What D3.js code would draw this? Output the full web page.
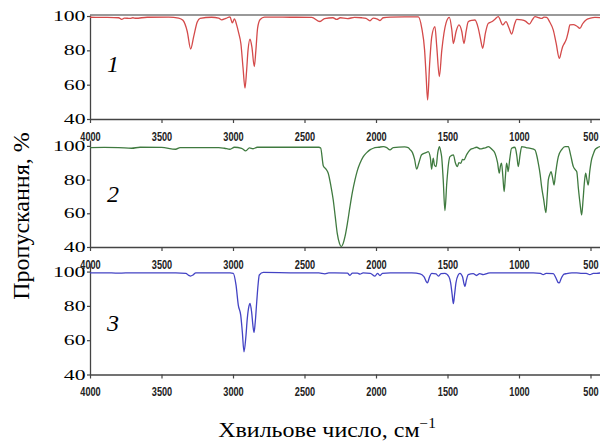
<!DOCTYPE html>
<html>
<head>
<meta charset="utf-8">
<script src="https://cdn.jsdelivr.net/npm/d3@7"></script>
<style>
  body { margin: 0; background: #fff; }
</style>
</head>
<body>
<div id="canvas"></div>
<script>
// tick values and labels
const xTicks = [4000, 3500, 3000, 2500, 2000, 1500, 1000, 500];
const yTicks = [40, 60, 80, 100];
const panelNames = ["1", "2", "3"];

// spectrum 1 (red)
const wn1 = [4000,3900,3800,3778,3760,3720,3700,3680,3600,3450,3380,3350,3320,3296,3275,3250,3230,3150,3100,3079,3050,3021,3005,2990,2975,2960,2945,2930,2916,2905,2895,2881,2868,2851,2840,2828,2810,2780,2600,2450,2392,2360,2301,2275,2250,2200,2150,2100,2070,2042,2020,1990,1972,1950,1900,1800,1704,1680,1660,1650,1639,1625,1610,1588,1575,1557,1540,1510,1487,1470,1459,1440,1420,1400,1385,1370,1355,1330,1308,1285,1270,1254,1235,1215,1191,1170,1145,1114,1091,1070,1051,1030,1016,981,955,928,905,888,860,841,825,807,785,760,740,718,705,695,680,667,655,644,620,597,574,555,527,500,469,430];
const tr1 = [99.3,99.2,99.0,98.0,98.8,98.6,99.0,98.7,99.3,99.4,98.8,97.5,91,80.8,88,96.5,98.6,99.3,98.8,97.8,98.6,99.5,96,98.3,95,90,84,70,58,68,80,86.6,82,70.5,80,93,98,99.4,99.3,99.2,96.8,98.5,99,98,99,98.5,99.2,99,98.6,97.2,98.8,98.2,97.4,99,99.4,99.5,99.5,93,80,66,51.1,72,88,93.8,82,64.7,80,96,99.2,92,84,91,94.8,91,84,91,96.7,97.5,97.7,93,87,81.2,90,95.7,96.7,98,99.6,94.8,96.7,93,89.5,95.5,98,97.7,97,95.3,98,99.6,99,98.6,99.4,99.2,96.5,91.8,84,75.3,79,82.1,84.5,87,91,94.8,95,94.2,92.8,95.5,98,98.8,99.2,99];

// spectrum 2 (green)
const wn2 = [4000,3900,3800,3709,3650,3500,3401,3370,3100,3060,3021,2990,2940,2911,2885,2860,2830,2700,2500,2400,2387,2368,2350,2334,2315,2299,2285,2271,2255,2243,2230,2217,2200,2182,2165,2147,2130,2112,2090,2065,2040,2019,1980,1949,1925,1902,1880,1800,1775,1762,1745,1730,1716,1700,1681,1650,1635,1620,1611,1600,1591,1580,1568,1557,1548,1541,1530,1518,1505,1492,1483,1459,1445,1431,1420,1407,1395,1385,1365,1343,1320,1296,1270,1250,1230,1215,1190,1168,1150,1138,1130,1122,1113,1104,1095,1087,1080,1076,1065,1052,1028,1015,1005,992,981,950,920,888,875,865,852,842,827,812,803,795,785,776,765,755,745,735,725,700,678,655,640,620,608,596,585,572,562,552,543,534,525,516,505,493,481,469,450,430];
const tr2 = [99,99.1,99,98.6,99.2,99.1,98,99,99,98.6,98,99.2,98.6,97,98.8,98.3,99.2,99.2,99.2,99.2,98.8,88,86.2,83.8,76,67.9,58,48.1,42,40.2,42,46.1,54,63.9,72.5,79.8,85.5,89.7,93.5,96,97.8,98.6,99.2,99.6,99,97.6,99,99.4,99,97.8,96,92,86.2,90,94.7,96,96.6,93,86.2,92.7,88.5,87.7,96,99.6,97,93.6,80,61.6,78,90,93.6,94.7,90,87.7,90,89.7,92,91.7,95,97.6,98.5,99.2,98.2,98.6,99,99.6,98,95.6,90,83.8,88,89.7,82,72.9,82,89.7,87,84.7,92,98.6,99.2,94,87.7,95,99.6,99,98.5,97.6,94,89.7,83,75.8,68,60.4,70,79.8,83,84.7,81,76.8,83,89,93.6,98,99.6,99.6,95,87.7,86,84.7,75,65,59,68,78,83.8,80,76.8,85,91.7,95,97.6,99,99.6];

// spectrum 3 (blue)
const wn3 = [4000,3900,3800,3700,3500,3400,3330,3310,3296,3280,3260,3100,3020,2998,2979,2963,2946,2935,2923,2910,2900,2888,2881,2870,2860,2853,2845,2834,2825,2816,2788,2600,2400,2357,2330,2200,2182,2165,2130,2112,2090,2040,2007,1990,1972,1955,1900,1832,1750,1692,1665,1641,1625,1611,1580,1564,1545,1518,1490,1478,1468,1459,1450,1441,1425,1413,1395,1385,1378,1368,1355,1320,1297,1275,1250,1220,1203,1000,900,850,831,810,760,740,725,718,705,685,667,630,597,560,530,504,480,457,430];
const tr3 = [99.2,99.3,99.1,99.3,99.2,99.3,99,97.8,97.4,98,99.2,99.3,99.2,99,92.2,80.5,74.6,65,53.2,62,72.7,80,81.4,76.6,68,64.5,70,82.4,92,98,99.5,99.3,99.2,98.7,99.2,99.1,97.8,99.1,99.1,98.5,99.2,99,97.3,99,97.6,99,99.3,99.3,99.2,98.7,97,93.4,97,99,98.7,97.3,98.8,99,97,93.4,87,81.3,87,93.4,98,99,97,93,91.4,95,98.2,98.8,97.7,98.8,98.2,99,99.3,99.2,99.2,99,98.2,99,98.8,96,93.5,93.4,96,98.5,98.8,99.2,99.3,99,99,98.2,99,99,99.2];

window.onload = function() {
    let width = 600, height = 441;

    let svg = d3.select("#canvas").append("svg")
        .attr("width", width)
        .attr("height", height)
        .style("display", "block");

    // shared wavenumber scale (reversed), right end runs off the picture
    let x = d3.scaleLinear().domain([4000, 400]).range([90, 90 + 3600 * 71.5 / 500]);

    let panels = [
        {wn: wn1, tr: tr1, color: "#d44a4a", top: 15, bottom: 119, yMax: 100.6, labelY: 72},
        {wn: wn2, tr: tr2, color: "#3f7a3f", top: 140, bottom: 247, yMax: 103.5, labelY: 202},
        {wn: wn3, tr: tr3, color: "#4343c4", top: 263, bottom: 374.5, yMax: 105, labelY: 331}
    ];

    panels.forEach(function(p, i) {
        let y = d3.scaleLinear().domain([40, p.yMax]).range([p.bottom, p.top]);
        let g = svg.append("g");

        // bottom axis
        let xAxis = d3.axisBottom(x)
            .tickValues(xTicks)
            .tickSize(4)
            .tickSizeOuter(0)
            .tickPadding(9)
            .tickFormat(d3.format("d"));
        let ax = g.append("g")
            .attr("transform", "translate(0," + p.bottom + ")")
            .call(xAxis);
        ax.select(".domain").attr("stroke", "#444").attr("stroke-width", 1.3);
        ax.selectAll(".tick line").attr("stroke", "#444").attr("stroke-width", 1.2);
        ax.selectAll(".tick text")
            .attr("font-family", "'Liberation Sans', Arial, sans-serif")
            .attr("font-weight", "bold")
            .attr("font-size", 12)
            .attr("fill", "#222")
            .attr("textLength", function(d) { return String(d).length * 5.1; })
            .attr("lengthAdjust", "spacingAndGlyphs");

        // left axis
        let yAxis = d3.axisLeft(y)
            .tickValues(yTicks)
            .tickSize(3)
            .tickSizeOuter(0)
            .tickFormat("");
        let ay = g.append("g")
            .attr("transform", "translate(90,0)")
            .call(yAxis);
        ay.select(".domain").attr("stroke", "#444").attr("stroke-width", 1.3);
        ay.selectAll(".tick line").attr("stroke", "#444").attr("stroke-width", 1.2);

        // y tick labels (the picture has them stretched sideways)
        g.selectAll("text.ylab")
            .data(yTicks)
            .enter().append("text")
            .attr("class", "ylab")
            .attr("transform", function(d) { return "translate(85.5," + y(d) + ") scale(1.45,1)"; })
            .attr("dy", "0.34em")
            .attr("text-anchor", "end")
            .attr("font-family", "'Liberation Serif', 'Times New Roman', serif")
            .attr("font-size", 15)
            .text(function(d) { return d; });

        // top frame only on the first panel
        if (i == 0) {
            g.append("line")
                .attr("x1", 90).attr("x2", width)
                .attr("y1", p.top).attr("y2", p.top)
                .attr("stroke", "#777")
                .attr("stroke-width", 1.6);
        }

        // spectrum
        let line = d3.line()
            .x(function(d) { return x(d[0]); })
            .y(function(d) { return y(d[1]); })
            .curve(d3.curveMonotoneX);
        g.append("path")
            .datum(d3.zip(p.wn, p.tr))
            .attr("fill", "none")
            .attr("stroke", p.color)
            .attr("stroke-width", 1.3)
            .attr("d", line);

        // panel number
        g.append("text")
            .attr("x", 107)
            .attr("y", p.labelY)
            .attr("font-family", "'Liberation Serif', 'Times New Roman', serif")
            .attr("font-style", "italic")
            .attr("font-size", 24)
            .text(panelNames[i]);
    });

    // y title
    svg.append("text")
        .attr("transform", "translate(29,216) rotate(-90)")
        .attr("text-anchor", "middle")
        .attr("font-family", "'Liberation Serif', 'Times New Roman', serif")
        .attr("font-size", 24)
        .text("Пропускання, %");

    // x title with superscript
    let xt = svg.append("text")
        .attr("transform", "translate(327,437) scale(1.09,1)")
        .attr("text-anchor", "middle")
        .attr("font-family", "'Liberation Serif', 'Times New Roman', serif")
        .attr("font-size", 22);
    xt.append("tspan").text("Хвильове число, см");
    xt.append("tspan").attr("dy", -9).attr("font-size", 14).text("−1");
}
</script>
</body>
</html>
